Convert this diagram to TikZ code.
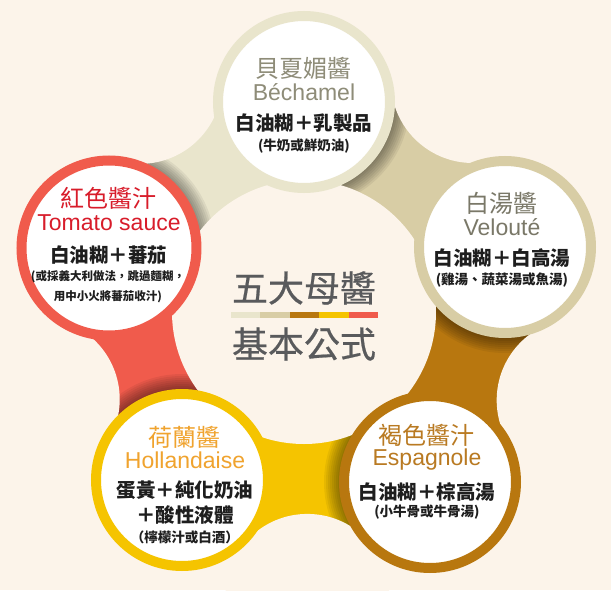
\documentclass[tikz,border=0pt]{standalone}
\usepackage{fontspec}
\setmainfont{Liberation Sans}
\newfontfamily\cjk{Noto Sans CJK TC}
\newfontfamily\cjkhead[FakeBold=0.6]{Noto Sans CJK TC}
\usetikzlibrary{calc}

\definecolor{paper}{HTML}{FCF4EA}
\definecolor{ring-bech}{HTML}{E9E5CC}
\definecolor{ring-vel}{HTML}{D8CDA5}
\definecolor{ring-esp}{HTML}{B8770F}
\definecolor{ring-hol}{HTML}{F5C400}
\definecolor{ring-red}{HTML}{F05B4C}
\definecolor{txt-bech}{HTML}{8E8C78}
\definecolor{txt-vel}{HTML}{7A7868}
\definecolor{txt-esp}{HTML}{B97A22}
\definecolor{txt-hol}{HTML}{F0A32E}
\definecolor{txt-red}{HTML}{D81C2A}
\definecolor{ink}{HTML}{1E1E1E}
\definecolor{slate}{HTML}{595A5C}

\newlength{\hubr}
\setlength{\hubr}{132pt}
\newlength{\blobr}
\setlength{\blobr}{82pt}

\begin{document}
\begin{tikzpicture}[x=1pt, y=1pt,
sauce/.style={circle, draw=#1, fill=white, line width=10pt, minimum size=172pt, inner sep=0pt}, % ring of one sauce
title/.style={font=\cjk\fontsize{24}{24}\selectfont}, % chinese name
latin/.style={font=\fontsize{23}{23}\selectfont}, % french name
formula/.style={font=\cjk\bfseries\fontsize{19.5}{20}\selectfont, text=ink}, % main recipe
note/.style={font=\cjk\bfseries\fontsize{13.5}{14}\selectfont, text=ink}, % recipe remark
small/.style={font=\cjk\bfseries\fontsize{11.5}{20}\selectfont, text=ink, align=center}, % long remark
headline/.style={font=\cjkhead\fontsize{36}{36}\selectfont, text=slate} % centre words
]

\fill[paper] (-304,-278) rectangle (307,312);
\useasboundingbox (-304,-278) rectangle (307,312);

\coordinate (o) at (0,0);
\coordinate (p-bech) at (0,210);
\coordinate (p-vel) at (201,65);
\coordinate (p-esp) at (126,-170);
\coordinate (p-hol) at (-122,-168);
\coordinate (p-red) at (-195,64);

% tails: each ring runs on under the next one
\foreach \a/\b in {vel/bech, bech/red, red/hol, hol/esp, esp/vel} {
  \coordinate (m-\a) at ($(p-\a)!.5!(p-\b)$);
  \begin{scope}
    \clip (o) -- (p-\a) -- ($1.68*(m-\a)$) -- (p-\b) -- cycle;
    \fill[ring-\a] (-304,-278) rectangle (307,312);
    \foreach \r in {92,94,...,106}
      \fill[black, opacity=.06] (p-\b) circle (\r pt);
  \end{scope}
}

% cream hub and outer blobs
\fill[paper] (o) circle (\hubr);
\foreach \a in {vel, bech, red, hol, esp}
  \fill[paper] ($1.68*(m-\a)$) circle (\blobr);

\node[sauce=ring-bech] (bech) at (p-bech) {};
\node[sauce=ring-vel] (vel) at (p-vel) {};
\node[sauce=ring-esp] (esp) at (p-esp) {};
\node[sauce=ring-hol] (hol) at (p-hol) {};
\node[sauce=ring-red, minimum size=175pt] (red) at (p-red) {};

% bechamel
\node[title, text=txt-bech] (bech-t) at ($(bech)+(0,34)$) {貝夏媚醬};
\node[latin, text=txt-bech] (bech-l) at ($(bech)+(0,10)$) {Béchamel};
\node[formula] (bech-f) at ($(bech)+(0,-21)$) {白油糊＋乳製品};
\node[note] (bech-n) at ($(bech)+(0,-44)$) {(牛奶或鮮奶油)};

% veloute
\node[title, text=txt-vel] (vel-t) at ($(vel)+(-3,44)$) {白湯醬};
\node[latin, text=txt-vel] (vel-l) at ($(vel)+(-3,20)$) {Velouté};
\node[formula] (vel-f) at ($(vel)+(-3,-11)$) {白油糊＋白高湯};
\node[note] (vel-n) at ($(vel)+(-3,-33)$) {(雞湯、蔬菜湯或魚湯)};

% espagnole
\node[title, text=txt-esp] (esp-t) at ($(esp)+(-3,47)$) {褐色醬汁};
\node[latin, text=txt-esp] (esp-l) at ($(esp)+(-3,22)$) {Espagnole};
\node[formula] (esp-f) at ($(esp)+(-3,-10)$) {白油糊＋棕高湯};
\node[note] (esp-n) at ($(esp)+(-3,-30)$) {(小牛骨或牛骨湯)};

% hollandaise
\node[title, text=txt-hol] (hol-t) at ($(hol)+(3,43)$) {荷蘭醬};
\node[latin, text=txt-hol] (hol-l) at ($(hol)+(3,20)$) {Hollandaise};
\node[formula] (hol-f) at ($(hol)+(3,-10)$) {蛋黃＋純化奶油};
\node[formula] (hol-g) at ($(hol)+(3,-35)$) {＋酸性液體};
\node[note] (hol-n) at ($(hol)+(3,-57)$) {（檸檬汁或白酒）};

% tomato
\node[title, text=txt-red] (red-t) at ($(red)+(0,50)$) {紅色醬汁};
\node[latin, text=txt-red] (red-l) at ($(red)+(0,25)$) {Tomato sauce};
\node[formula] (red-f) at ($(red)+(0,-7)$) {白油糊＋蕃茄};
\node[small] (red-n) at ($(red)+(-1,-39)$) {(或採義大利做法，跳過麵糊，\\用中小火將蕃茄收汁)};

% centre
\node[headline] (head) at (0,24) {五大母醬};
\foreach \c [count=\i] in {ring-bech, ring-vel, ring-esp, ring-hol, ring-red}
  \fill[\c] (-73+29.4*\i-29.4,-6) rectangle ++(29.4,6);
\node[headline] (base) at (0,-32) {基本公式};

\end{tikzpicture}
\end{document}
